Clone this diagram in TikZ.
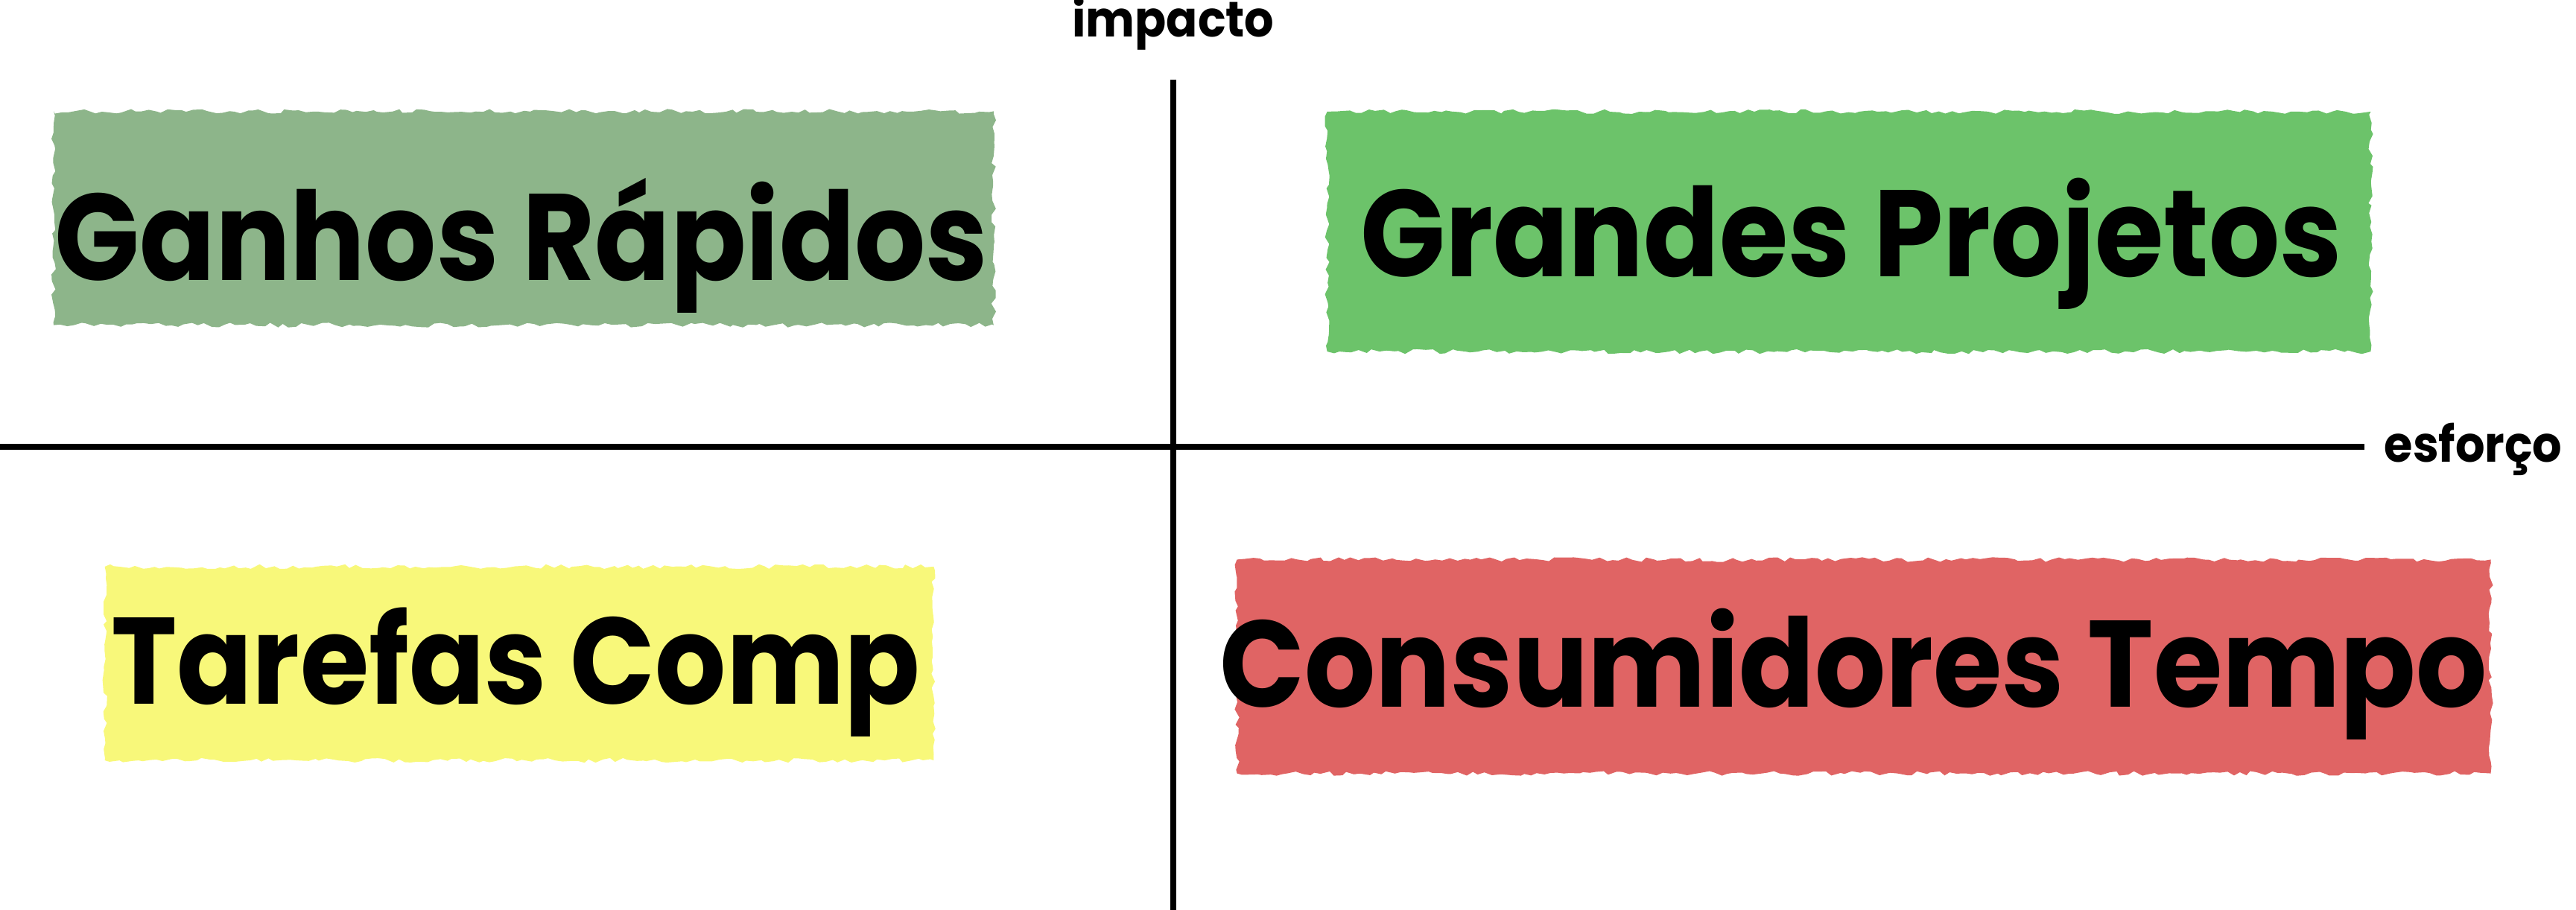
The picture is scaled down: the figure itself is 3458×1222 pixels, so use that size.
\documentclass[tikz,border=0pt]{standalone}
\usepackage{fontspec}
\setmainfont{Poppins}
\newfontfamily\tapefont{Poppins}[FakeStretch=0.905]
\newfontfamily\axisfont{Poppins}[FakeStretch=0.93]
\usetikzlibrary{decorations.pathmorphing}

\definecolor{ganhoscol}{HTML}{8DB58A}
\definecolor{grandescol}{HTML}{6CC36A}
\definecolor{tarefascol}{HTML}{F8F87A}
\definecolor{consumcol}{HTML}{E06464}

\tikzset{
  tape/.style={rectangle, inner sep=0pt, outer sep=0pt, decorate,
    decoration={random steps, segment length=2.5pt, amplitude=0.9pt}},
  bigtxt/.style={anchor=base, inner sep=0pt, font=\tapefont\fontsize{47}{47}\selectfont\bfseries},
  axislbl/.style={anchor=base, inner sep=0pt, font=\axisfont\fontsize{19}{19}\selectfont\bfseries},
  axisline/.style={line width=2.5pt}
}

\begin{document}
\pgfmathsetseed{7}
\begin{tikzpicture}[x=0.01cm, y=-0.01cm]
\useasboundingbox (0,0) rectangle (3458,1222);

% quadrants
\node (ganhos) [tape, fill=ganhoscol, minimum width=12.61cm, minimum height=2.87cm] at (703,293) {};
\node (grandes) [tape, fill=grandescol, minimum width=14cm, minimum height=3.22cm] at (2482,311) {};
\node (tarefas) [tape, fill=tarefascol, minimum width=11.12cm, minimum height=2.6cm] at (697,891) {};
\node (consum) [tape, fill=consumcol, minimum width=16.82cm, minimum height=2.87cm] at (2502,895) {};

\node (ganhosTxt) [bigtxt] at (700,377) {Ganhos Rápidos};
\node (grandesTxt) [bigtxt] at (2485,372) {Grandes Projetos};
\node (tarefasTxt) [bigtxt] at (692,945) {Tarefas Comp};
\node (consumTxt) [bigtxt] at (2488,949) {Consumidores Tempo};

% axes
\coordinate (ytop) at (1575,107);
\coordinate (ybot) at (1575,1222);
\coordinate (xleft) at (0,600);
\coordinate (xright) at (3174,600);
\draw[axisline] (ytop) -- (ybot);
\draw[axisline] (xleft) -- (xright);

\node (impacto) [axislbl] at (1575,50) {impacto};
\node (esforco) [axislbl, anchor=base west] at (3200,621) {esforço};
\end{tikzpicture}
\end{document}
